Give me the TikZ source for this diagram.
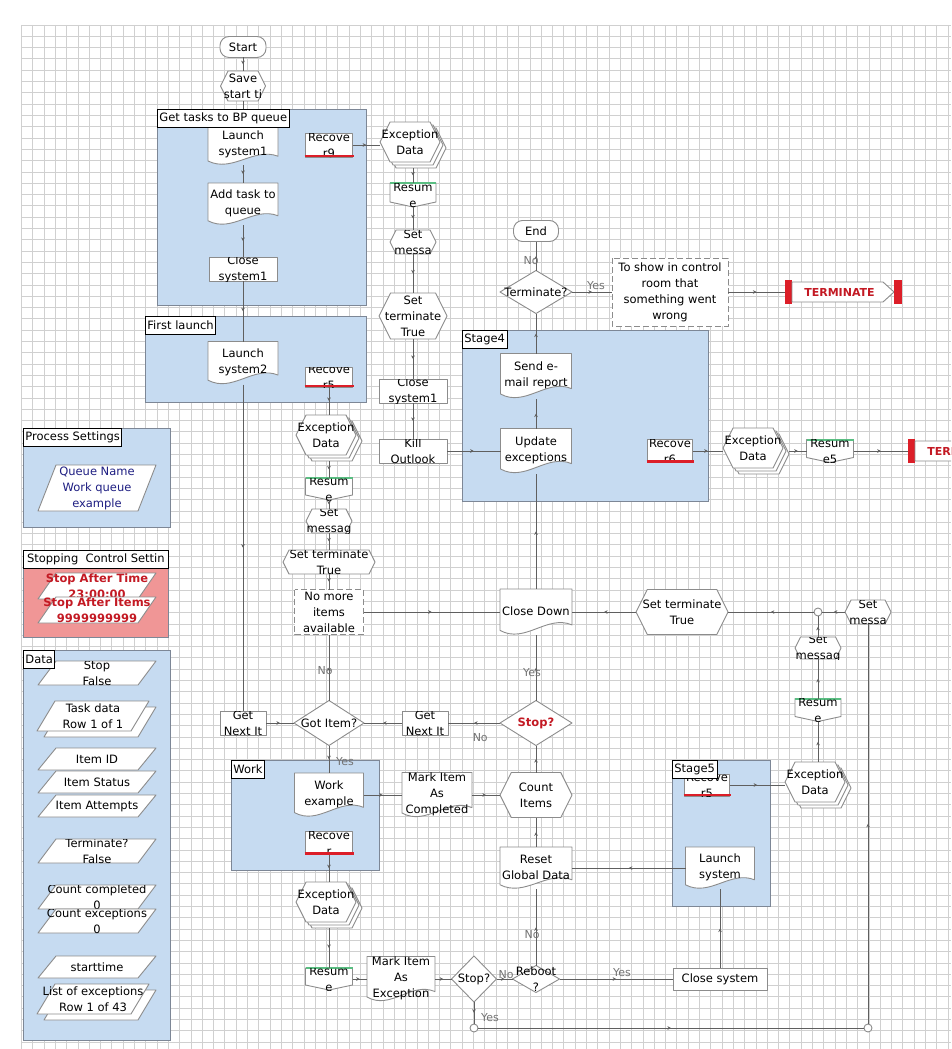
\documentclass[tikz,border=0pt]{standalone}
\usepackage{fontspec}
\setmainfont{DejaVu Sans}
\usetikzlibrary{calc,decorations.markings,arrows.meta}

\definecolor{gridc}{RGB}{208,208,208}
\definecolor{blockfill}{RGB}{198,219,241}
\definecolor{blockline}{RGB}{125,135,150}
\definecolor{redfill}{RGB}{240,150,150}
\definecolor{shapeline}{RGB}{140,140,140}
\definecolor{linkc}{RGB}{95,95,95}
\definecolor{recred}{RGB}{220,30,40}
\definecolor{resgreen}{RGB}{90,190,130}
\definecolor{datablue}{RGB}{30,30,130}
\definecolor{stopred}{RGB}{195,25,35}
\definecolor{labelc}{RGB}{115,115,115}

\tikzset{
  shp/.style={draw=shapeline, fill=white, line width=0.9pt, line join=round},
  abox/.style={rectangle, inner sep=0pt, outer sep=0pt, draw=none},
  txt/.style={font=\fontsize{11.5}{16}\selectfont, align=center, inner sep=0pt},
  link/.style={draw=linkc, line width=0.8pt, postaction={decorate},
    decoration={markings, mark=at position 0.5 with {\arrow{Stealth[length=3.5pt,width=3.5pt]}}}},
  blk/.style={rectangle, fill=blockfill, draw=blockline, line width=0.7pt, inner sep=0pt, anchor=north west},
  blkred/.style={blk, fill=redfill},
  blklabel/.style={rectangle, draw=black, fill=white, line width=0.8pt,
    font=\fontsize{11.5}{13}\selectfont, inner xsep=2pt, inner ysep=0pt,
    minimum height=18pt, anchor=north west},
  flowlab/.style={font=\fontsize{11}{12}\selectfont, text=labelc, inner sep=0pt},
  joint/.style={circle, draw=shapeline, fill=white, line width=0.9pt, minimum size=8pt, inner sep=0pt},
  exctext/.style={font=\bfseries\fontsize{11}{13}\selectfont, text=stopred, inner sep=0pt},
}

% box edges from centre and size
\newcommand\bpbox[4]{\pgfmathsetmacro\bxl{#1-(#3)/2}\pgfmathsetmacro\bxr{#1+(#3)/2}%
  \pgfmathsetmacro\byt{#2-(#4)/2}\pgfmathsetmacro\byb{#2+(#4)/2}}
% named box with its text clipped to it
\newcommand\bplabel[7][]{%
  \node[abox, minimum width=#5pt, minimum height=#6pt] (#2) at (#3,#4) {};
  \begin{scope}\clip (#2.south west) rectangle (#2.north east);
  \node[txt,#1] (#2-t) at (#3,#4) {#7};\end{scope}}

\newcommand\hexpath[4]{\bpbox{#1}{#2}{#3}{#4}\pgfmathsetmacro\bins{0.25*(#4)}%
  \draw[shp] (\bxl,#2) -- ({\bxl+\bins},\byt) -- ({\bxr-\bins},\byt) -- (\bxr,#2)
    -- ({\bxr-\bins},\byb) -- ({\bxl+\bins},\byb) -- cycle;}
\newcommand\hexnode[7][]{\hexpath{#3}{#4}{#5}{#6}\bplabel[#1]{#2}{#3}{#4}{#5}{#6}{#7}}
\newcommand\multihex[6]{%
  \pgfmathsetmacro\mfx{#2-3}\pgfmathsetmacro\mfy{#3-3}%
  \hexpath{\mfx+6}{\mfy+6}{#4}{#5}\hexpath{\mfx+3}{\mfy+3}{#4}{#5}\hexpath{\mfx}{\mfy}{#4}{#5}%
  \pgfmathsetmacro\mw{#4+6}\pgfmathsetmacro\mh{#5+6}%
  \node[abox, minimum width=\mw pt, minimum height=\mh pt] (#1) at (#2,#3) {};
  \node[txt] (#1-t) at (\mfx,\mfy) {#6};}
\newcommand\docpath[4]{\bpbox{#1}{#2}{#3}{#4}%
  \draw[shp] (\bxl,\byt) -- (\bxr,\byt) -- (\bxr,{\byb-0.22*(#4)})
    .. controls ({\bxr-0.35*(#3)},{\byb-0.45*(#4)}) and ({\bxl+0.35*(#3)},{\byb+0.2*(#4)})
    .. (\bxl,{\byb-0.1*(#4)}) -- cycle;}
\newcommand\docnode[7][]{\docpath{#3}{#4}{#5}{#6}\bplabel[yshift=1pt,#1]{#2}{#3}{#4}{#5}{#6}{#7}}
\newcommand\actnode[7][]{\bpbox{#3}{#4}{#5}{#6}\draw[shp] (\bxl,\byt) rectangle (\bxr,\byb);%
  \bplabel[#1]{#2}{#3}{#4}{#5}{#6}{#7}}
\newcommand\termnode[7][]{\bpbox{#3}{#4}{#5}{#6}\draw[shp, rounded corners=9pt] (\bxl,\byt) rectangle (\bxr,\byb);%
  \bplabel[#1]{#2}{#3}{#4}{#5}{#6}{#7}}
\newcommand\decnode[7][]{\bpbox{#3}{#4}{#5}{#6}%
  \draw[shp] (\bxl,#4) -- (#3,\byt) -- (\bxr,#4) -- (#3,\byb) -- cycle;%
  \bplabel[#1]{#2}{#3}{#4}{#5}{#6}{#7}}
\newcommand\notenode[7][]{\bpbox{#3}{#4}{#5}{#6}%
  \draw[shp, dash pattern=on 6pt off 3pt] (\bxl,\byt) rectangle (\bxr,\byb);%
  \bplabel[#1]{#2}{#3}{#4}{#5}{#6}{#7}}
\newcommand\recnode[7][]{\bpbox{#3}{#4}{#5}{#6}\draw[shp] (\bxl,\byt) rectangle (\bxr,\byb);%
  \bplabel[#1]{#2}{#3}{#4}{#5}{#6}{#7}%
  \draw[recred, line width=2.2pt] ({\bxl-1},{\byb-1}) -- ({\bxr+1},{\byb-1});}
\newcommand\resnode[7][]{\bpbox{#3}{#4}{#5}{#6}%
  \draw[shp] (\bxl,\byt) -- (\bxr,\byt) -- (\bxr,{\byb-5}) -- (#3,\byb) -- (\bxl,{\byb-5}) -- cycle;%
  \draw[resgreen, line width=2pt] (\bxl,\byt) -- (\bxr,\byt);%
  \bplabel[#1]{#2}{#3}{#4}{#5}{#6}{#7}}
\newcommand\datapath[4]{\bpbox{#1}{#2}{#3}{#4}%
  \draw[shp] ({\bxl+18},\byt) -- (\bxr,\byt) -- ({\bxr-18},\byb) -- (\bxl,\byb) -- cycle;}
\newcommand\datanode[7][]{\datapath{#3}{#4}{#5}{#6}\bplabel[#1]{#2}{#3}{#4}{#5}{#6}{#7}}
\newcommand\multidata[6]{\datapath{#2+7}{#3+6}{#4}{#5}\datapath{#2}{#3}{#4}{#5}%
  \node[abox, minimum width=#4pt, minimum height=#5pt] (#1) at (#2,#3) {};
  \node[txt] (#1-t) at (#2,#3) {#6};}
% exception end stage: red bars on both ends, pointed body
\newcommand\excnode[5]{%
  \fill[recred] (#2,{#3-12}) rectangle ({#2+7},{#3+12});
  \draw[shp] ({#2+7},{#3-10}) -- ({#4-19},{#3-10}) -- ({#4-8},#3) -- ({#4-19},{#3+10}) -- ({#2+7},{#3+10}) -- cycle;
  \fill[recred] ({#4-8},{#3-12}) rectangle (#4,{#3+12});
  \pgfmathsetmacro\ew{#4-#2}\pgfmathsetmacro\ec{(#2+#4)/2}%
  \node[abox, minimum width=\ew pt, minimum height=24pt] (#1) at (\ec,#3) {};
  \node[exctext] (#1-t) at ({\ec-4},#3) {#5};}
\newcommand\blocknode[6][blk]{\pgfmathsetmacro\bw{#5-#3}\pgfmathsetmacro\bh{#6-#4}%
  \node[#1, minimum width=\bw pt, minimum height=\bh pt] (#2) at (#3,#4) {};}

\begin{document}
\begin{tikzpicture}[x=1pt,y=-1pt]
\useasboundingbox (0,0) rectangle (951,1049);
\clip (0,0) rectangle (951,1049);
\fill[white] (0,0) rectangle (951,1049);

% background grid
\foreach \gi in {0,...,82} \draw[gridc, line width=0.6pt] ({21.3+11.3*\gi},24.9) -- ({21.3+11.3*\gi},1049);
\foreach \gj in {0,...,90} \draw[gridc, line width=0.6pt] (21.3,{24.9+11.3*\gj}) -- (951,{24.9+11.3*\gj});

% blocks
\blocknode{blkA}{157}{109}{366}{305}
\blocknode{blkB}{145}{316}{366}{402}
\blocknode{blkS4}{462}{330}{708}{501}
\blocknode{blkW}{231}{760}{379}{870}
\blocknode{blkS5}{672}{760}{770}{906}
\blocknode{blkPS}{23}{428}{170}{527}
\blocknode[blkred]{blkST}{23}{550}{168}{637}
\blocknode{blkD}{23}{650}{170}{1040}

% main column
\termnode{start}{243}{47}{46}{21}{Start}
\hexnode{save}{243}{86}{45}{30}{Save\\start ti}
\docnode{launch1}{243}{145}{70}{40}{Launch\\system1}
\docnode{addtask}{243}{204}{70}{42}{Add task to\\queue}
\actnode{close1}{243}{269}{68}{24}{Close\\system1}
\docnode{launch2}{243}{363}{70}{43}{Launch\\system2}
\actnode{getnext1}{243}{723}{46}{24}{Get\\Next It}

% exception column of the first block
\recnode{rec9}{329}{145}{47}{24}{Recove\\r9}
\multihex{exc1}{413}{145}{60}{40}{Exception\\Data}
\resnode{res1}{413}{195}{46}{24}{Resum\\e}
\hexnode{setmsg1}{413}{242}{46}{24}{Set\\messa}
\hexnode{setterm1}{413}{316}{68}{46}{Set\\terminate\\True}
\actnode{close2}{413}{391}{68}{24}{Close\\system1}
\actnode{killout}{413}{451}{68}{24}{Kill\\Outlook}

% first launch exception path
\recnode{rec5a}{329}{377}{47}{20}{Recove\\r5}
\multihex{exc2}{329}{438}{60}{40}{Exception\\Data}
\resnode{res2}{329}{489}{47}{22}{Resum\\e}
\hexnode{setmsg2}{329}{521}{46}{24}{Set\\messag}
\hexnode{setterm2}{329}{562}{92}{24}{Set terminate\\True}
\notenode{nomore}{329}{612}{69}{45}{No more\\items\\available}
\decnode{gotitem}{329}{723}{70}{45}{Got Item?}
\actnode{getnext2}{425}{723}{46}{24}{Get\\Next It}

% work
\docnode{workex}{329}{795}{69}{44}{Work\\example}
\recnode{recw}{329}{843}{47}{23}{Recove\\r}
\multihex{exc4}{329}{905}{60}{40}{Exception\\Data}
\resnode{res4}{329}{979}{47}{22}{Resum\\e}
\docnode{markexc}{401}{979}{68}{45}{Mark Item\\As\\Exception}
\decnode{stop2}{474}{979}{45}{46}{Stop?}
\decnode{reboot}{536}{979}{47}{27}{Reboot\\?}
\actnode{closesys}{720}{979}{94}{22}{Close system}
\docnode{markdone}{437}{795}{70}{45}{Mark Item\\As\\Completed}
\hexnode{count}{536}{795}{72}{45}{Count\\Items}
\docnode{reset}{536}{868}{72}{42}{Reset\\Global Data}
\docnode{launchsys}{720}{868}{69}{42}{Launch\\system}
\recnode{rec5b}{707}{785}{45}{22}{Recove\\r5}
\multihex{exc5}{818}{785}{60}{40}{Exception\\Data}
\resnode{res3}{818}{710}{46}{23}{Resum\\e}
\hexnode{setmsg4}{818}{648}{46}{22}{Set\\messag}
\node[joint] (j1) at (818,612) {};
\hexnode{setmsg3}{868}{612}{46}{24}{Set\\messa}
\node[joint] (j2) at (868,1028) {};
\node[joint] (j3) at (474,1028) {};

% stop / close down
\decnode[text=stopred, font=\bfseries\fontsize{11.5}{16}\selectfont]{stopq}{536}{723}{72}{45}{Stop?}
\docnode{closedown}{536}{612}{72}{46}{Close Down}
\hexnode{setterm3}{682}{612}{92}{45}{Set terminate\\True}

% stage 4 and end
\docnode{updexc}{536}{451}{71}{45}{Update\\exceptions}
\docnode{sendmail}{536}{376}{71}{45}{Send e-\\mail report}
\decnode{terminateq}{536}{292}{72}{43}{Terminate?}
\termnode{endn}{536}{231}{45}{21}{End}
\notenode{note1}{670}{292}{116}{68}{To show in control\\room that\\something went\\wrong}
\excnode{term1}{785}{292}{902}{TERMINATE}
\recnode{rec6}{670}{451}{45}{23}{Recove\\r6}
\multihex{exc3}{756}{451}{60}{40}{Exception\\Data}
\resnode{res5}{830}{451}{47}{23}{Resum\\e5}
\excnode{term2}{908}{451}{1025}{TERMINATE}

% settings and data items
\datanode[text=datablue]{qname}{97}{488}{118}{46}{Queue Name\\Work queue\\example}
\datanode[text=stopred, font=\bfseries\fontsize{11.5}{16}\selectfont]{stoptime}{97}{586}{118}{26}{Stop After Time\\23:00:00}
\datanode[text=stopred, font=\bfseries\fontsize{11.5}{16}\selectfont]{stopitems}{97}{610}{118}{26}{Stop After Items\\9999999999}
\datanode{stopd}{97}{673}{118}{24}{Stop\\False}
\multidata{taskdata}{93}{716}{112}{30}{Task data\\Row 1 of 1}
\datanode{itemid}{97}{759}{118}{22}{Item ID}
\datanode{itemstatus}{97}{782}{118}{22}{Item Status}
\datanode{itematt}{97}{806}{118}{22}{Item Attempts}
\datanode{termd}{97}{851}{118}{24}{Terminate?\\False}
\datanode{countc}{97}{897}{118}{24}{Count completed\\0}
\datanode{counte}{97}{921}{118}{24}{Count exceptions\\0}
\datanode{starttime}{97}{967}{118}{22}{starttime}
\multidata{listexc}{93}{999}{112}{30}{List of exceptions\\Row 1 of 43}

% connectors
\draw[link] (start) -- (save);
\draw[link] (save) -- (launch1);
\draw[link] (launch1) -- (addtask);
\draw[link] (addtask) -- (close1);
\draw[link] (close1) -- (launch2);
\draw[link] (launch2) -- (getnext1);
\draw[link] (getnext1) -- (gotitem);
\draw[link] (gotitem) -- node[flowlab, pos=0.45, xshift=-4pt] {No} (nomore);
\draw[link] (gotitem) -- node[flowlab, pos=0.6, xshift=16pt] {Yes} (workex);
\draw[link] (rec9) -- (exc1);
\draw[link] (exc1) -- (res1);
\draw[link] (res1) -- (setmsg1);
\draw[link] (setmsg1) -- (setterm1);
\draw[link] (setterm1) -- (close2);
\draw[link] (close2) -- (killout);
\draw[link] (killout) -- (updexc);
\draw[link] (rec5a) -- (exc2);
\draw[link] (exc2) -- (res2);
\draw[link] (res2) -- (setmsg2);
\draw[link] (setmsg2) -- (setterm2);
\draw[link] (setterm2) -- (nomore);
\draw[link] (nomore) -- (closedown);
\draw[link] (stopq) -- node[flowlab, pos=0.43, xshift=-4pt] {Yes} (closedown);
\draw[link] (stopq) -- node[flowlab, pos=0.38, yshift=-15pt] {No} (getnext2);
\draw[link] (getnext2) -- (gotitem);
\draw[link] (workex) -- (markdone);
\draw[link] (markdone) -- (count);
\draw[link] (count) -- (stopq);
\draw[link] (closedown) -- (updexc);
\draw[link] (updexc) -- (sendmail);
\draw[link] (sendmail) -- (terminateq);
\draw[link] (terminateq) -- node[flowlab, pos=0.35, xshift=-5pt] {No} (endn);
\draw[link] (terminateq) -- node[flowlab, pos=0.6, yshift=6pt] {Yes} (note1);
\draw[link] (note1) -- (term1);
\draw[link] (rec6) -- (exc3);
\draw[link] (exc3) -- (res5);
\draw[link] (res5) -- (term2);
\draw[link] (rec5b) -- (exc5);
\draw[link] (exc5) -- (res3);
\draw[link] (res3) -- (setmsg4);
\draw[link] (setmsg4) -- (j1);
\draw[link] (setmsg3) -- (j1);
\draw[link] (j1) -- (setterm3);
\draw[link] (setterm3) -- (closedown);
\draw[link] (recw) -- (exc4);
\draw[link] (exc4) -- (res4);
\draw[link] (res4) -- (markexc);
\draw[link] (markexc) -- (stop2);
\draw[link] (stop2) -- node[flowlab, pos=0.6, yshift=4pt] {No} (reboot);
\draw[link] (stop2) -- node[flowlab, pos=0.7, xshift=16pt] {Yes} (j3);
\draw[link] (j3) -- (j2);
\draw[link] (j2) -- (setmsg3);
\draw[link] (reboot) -- node[flowlab, pos=0.55, yshift=6pt] {Yes} (closesys);
\draw[link] (closesys) -- (launchsys);
\draw[link] (launchsys) -- (reset);
\draw[link] (reboot) -- node[flowlab, pos=0.4, xshift=-4pt] {No} (reset);
\draw[link] (reset) -- (count);

% block titles
\node[blklabel] (blkA-l) at (blkA.north west) {Get tasks to BP queue};
\node[blklabel] (blkB-l) at (blkB.north west) {First launch};
\node[blklabel] (blkS4-l) at (blkS4.north west) {Stage4};
\node[blklabel] (blkW-l) at (blkW.north west) {Work};
\node[blklabel] (blkS5-l) at (blkS5.north west) {Stage5};
\node[blklabel] (blkPS-l) at (blkPS.north west) {Process Settings};
\node[blklabel, minimum width=145pt] (blkST-l) at (blkST.north west) {Stopping\ \ Control Settin};
\node[blklabel] (blkD-l) at (blkD.north west) {Data};
\end{tikzpicture}
\end{document}
